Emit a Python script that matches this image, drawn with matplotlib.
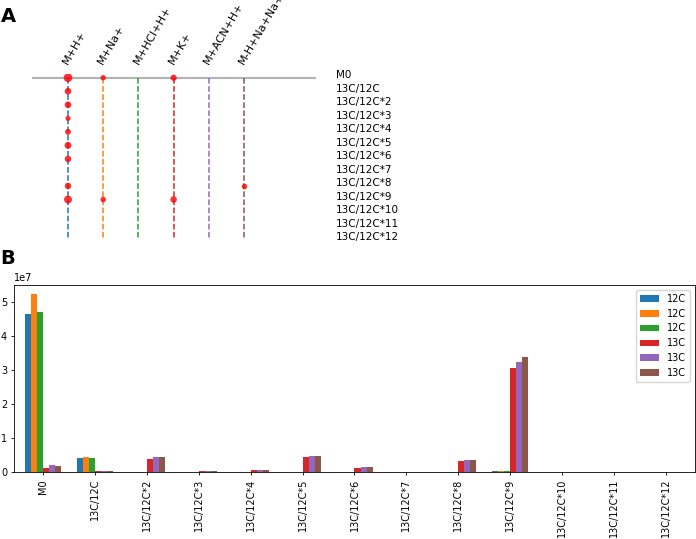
import matplotlib
matplotlib.use('Agg')
import matplotlib.pyplot as plt
import numpy as np

adducts = ["M+H+", "M+Na+", "M+HCl+H+", "M+K+", "M+ACN+H+", "M-H+Na+Na+"]
isotopes = ["M0", "13C/12C", "13C/12C*2", "13C/12C*3", "13C/12C*4",
            "13C/12C*5", "13C/12C*6", "13C/12C*7", "13C/12C*8",
            "13C/12C*9", "13C/12C*10", "13C/12C*11", "13C/12C*12"]

# dot size for each isotope (rows) and adduct (columns), 0 = not found
dot_size = [
    [39, 15, 0, 20, 0, 0],
    [23, 0, 0, 0, 0, 0],
    [23, 0, 0, 0, 0, 0],
    [14, 0, 0, 0, 0, 0],
    [18, 0, 0, 0, 0, 0],
    [25, 0, 0, 0, 0, 0],
    [22, 0, 0, 0, 0, 0],
    [0, 0, 0, 0, 0, 0],
    [22, 0, 0, 0, 0, 16],
    [33, 16, 0, 22, 0, 0],
    [0, 0, 0, 0, 0, 0],
    [0, 0, 0, 0, 0, 0],
    [0, 0, 0, 0, 0, 0],
]

# intensities per sample (x 1e7)
sample_labels = ["12C", "12C", "12C", "13C", "13C", "13C"]
c12_a = [4.66, 0.42, 0.01, 0.0, 0.0, 0.0, 0.0, 0.0, 0.0, 0.03, 0.0, 0.0, 0.0]
c12_b = [5.24, 0.44, 0.0, 0.0, 0.0, 0.0, 0.0, 0.0, 0.0, 0.03, 0.0, 0.0, 0.0]
c12_c = [4.72, 0.40, 0.0, 0.0, 0.0, 0.0, 0.0, 0.0, 0.0, 0.03, 0.0, 0.0, 0.0]
c13_a = [0.13, 0.02, 0.39, 0.02, 0.05, 0.43, 0.13, 0.0, 0.33, 3.05, 0.0, 0.0, 0.0]
c13_b = [0.22, 0.02, 0.43, 0.03, 0.05, 0.47, 0.15, 0.0, 0.35, 3.24, 0.0, 0.0, 0.0]
c13_c = [0.18, 0.02, 0.44, 0.03, 0.06, 0.48, 0.15, 0.0, 0.36, 3.37, 0.0, 0.0, 0.0]

plt.rcParams['font.size'] = 7
plt.rcParams['axes.linewidth'] = 0.6
colors = plt.rcParams['axes.prop_cycle'].by_key()['color']

fig = plt.figure(figsize=(6.96, 5.39), dpi=100)

# ---- panel A
ax1 = fig.add_axes([0.046, 0.547, 0.408, 0.3163])
ax1.set_xlim(-1.023, 7.045)
ax1.set_ylim(12.3, -0.3)
ax1.set_axis_off()
ax1.axhline(0, color='grey', alpha=0.6, lw=1.5, zorder=1)
sizes = np.array(dot_size)
for j, name in enumerate(adducts):
    ax1.vlines(j, 0, len(isotopes) - 1, colors=colors[j], linestyles='--',
               lw=1.1, zorder=2)
    rows = np.nonzero(sizes[:, j])[0]
    ax1.scatter(np.full(len(rows), j), rows, s=sizes[rows, j], color='red',
                alpha=0.8, lw=0, zorder=3)
    ax1.text(j + 0.05, -0.87, name, rotation=60, rotation_mode='anchor',
             ha='left', va='bottom', fontsize=8)
for i, name in enumerate(isotopes):
    ax1.text(1.07, i - 0.2, name, transform=ax1.get_yaxis_transform(),
             ha='left', va='center', fontsize=7.5)

# ---- panel B
ax2 = fig.add_axes([0.0201, 0.1243, 0.9784, 0.3469])
series = [c12_a, c12_b, c12_c, c13_a, c13_b, c13_c]
x = np.arange(len(isotopes))
w = 0.7 / len(series)
for k, vals in enumerate(series):
    ax2.bar(x + (k - (len(series) - 1) / 2) * w, np.array(vals) * 1e7, w,
            color=colors[k], label=sample_labels[k])
ax2.set_xticks(x)
ax2.set_xticklabels(isotopes, rotation=90)
ax2.set_xlim(-0.56, 12.56)
ax2.tick_params(length=2.5, width=0.6, pad=2.5)
ax2.legend(loc='upper right')

fig.text(0.001, 1 - 22 / 539, 'A', fontsize=14, weight='bold', va='baseline')
fig.text(0.001, 1 - 264.5 / 539, 'B', fontsize=14, weight='bold', va='baseline')

plt.savefig('out.png')
